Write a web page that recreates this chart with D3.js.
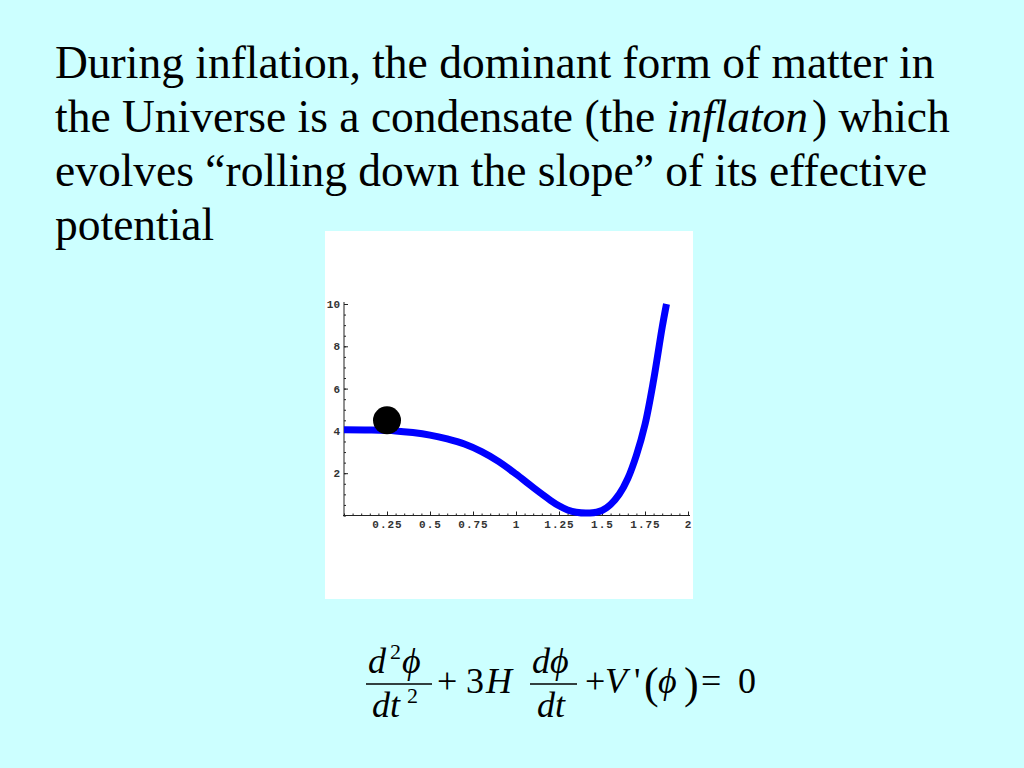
<!DOCTYPE html>
<html>
<head>
<meta charset="utf-8">
<script src="https://cdn.jsdelivr.net/npm/d3@7"></script>
<style>
  html, body { margin: 0; padding: 0; background: #ccffff; }
  svg { display: block; }
</style>
</head>
<body>
<svg id="slide" width="1024" height="768"></svg>
<script>
// ---- Data ----
const phiValues = [0, 0.15, 0.3, 0.4, 0.5, 0.6, 0.7, 0.8, 0.9, 1.0, 1.1, 1.2, 1.25, 1.3, 1.35, 1.43, 1.5, 1.55, 1.6, 1.65, 1.7, 1.75, 1.8, 1.85, 1.875];
const potentialValues = [4.05, 4.04, 4.0, 3.92, 3.8, 3.62, 3.38, 3.02, 2.55, 1.96, 1.32, 0.72, 0.46, 0.26, 0.15, 0.12, 0.24, 0.52, 1.0, 1.75, 2.85, 4.3, 6.4, 8.9, 10.0];
const ballPhi = [0.25];
const ballV = [4.5];
const xTickValues = [0.25, 0.5, 0.75, 1, 1.25, 1.5, 1.75, 2];
const xTickLabels = ["0.25", "0.5", "0.75", "1", "1.25", "1.5", "1.75", "2"];
const yTickValues = [2, 4, 6, 8, 10];
const yTickLabels = ["2", "4", "6", "8", "10"];
const paragraphLines = [
  [{t: "During inflation, the dominant form of matter in"}],
  [{t: "the Universe is a condensate (the"}, {t: "inflaton", i: true}, {t: ") which"}],
  [{t: "evolves \u201crolling down the slope\u201d of its effective"}],
  [{t: "potential"}]
];

const svg = d3.select("#slide");
svg.append("rect").attr("width", 1024).attr("height", 768).attr("fill", "#ccffff");

// ---- Paragraph (separate text pieces, laid out by measured width) ----
const serif = "'Liberation Serif', 'Times New Roman', Times, serif";
const paraSize = 45.5;
const spaceW = paraSize * 0.25;
paragraphLines.forEach((parts, li) => {
  let cx = 55;
  parts.forEach((p, pi) => {
    const t = svg.append("text")
      .attr("x", cx).attr("y", 78 + li * 54)
      .attr("font-family", serif).attr("font-size", paraSize).attr("fill", "#000")
      .attr("font-style", p.i ? "italic" : "normal")
      .text(p.t);
    const w = t.node().getComputedTextLength();
    // gap to next piece: a space after "(the", a small italic-correction after "inflaton"
    cx += w + (pi === 0 ? spaceW : 4);
  });
});

// ---- Chart panel ----
const panel = {x: 325, y: 231, w: 368, h: 368};
const defs = svg.append("defs");
defs.append("clipPath").attr("id", "panelClip")
  .append("rect").attr("x", panel.x).attr("y", panel.y).attr("width", panel.w).attr("height", panel.h);
svg.append("rect").attr("x", panel.x).attr("y", panel.y).attr("width", panel.w).attr("height", panel.h).attr("fill", "#ffffff");

const g = svg.append("g").attr("clip-path", "url(#panelClip)");
const x = d3.scaleLinear().domain([0, 2]).range([344, 688]);
const y = d3.scaleLinear().domain([0, 10]).range([515.5, 304]);

const mono = "'Liberation Mono', 'DejaVu Sans Mono', monospace";

// minor ticks
const xMinor = d3.range(0, 2.0001, 0.05);
const yMinor = d3.range(0, 10.0001, 0.5);
g.append("g").attr("transform", `translate(0,${y(0)})`)
  .call(d3.axisBottom(x).tickValues(xMinor).tickSizeInner(-2).tickSizeOuter(0).tickFormat(""))
  .call(a => a.select(".domain").remove())
  .call(a => a.selectAll("line").attr("stroke", "#222"));
g.append("g").attr("transform", `translate(${x(0)},0)`)
  .call(d3.axisLeft(y).tickValues(yMinor).tickSizeInner(-2).tickSizeOuter(0).tickFormat(""))
  .call(a => a.select(".domain").remove())
  .call(a => a.selectAll("line").attr("stroke", "#222"));

// major axes
const xAxis = g.append("g").attr("transform", `translate(0,${y(0)})`)
  .call(d3.axisBottom(x).tickValues(xTickValues).tickSizeInner(-4).tickSizeOuter(0).tickPadding(5)
    .tickFormat((d, i) => xTickLabels[i]));
xAxis.select(".domain").attr("d", `M${x(0) - 1},0H${x(2) + 2}`).attr("stroke", "#222");
xAxis.selectAll("line").attr("stroke", "#222");
xAxis.selectAll("text").attr("font-family", mono).attr("font-size", 11).attr("font-weight", "bold")
  .attr("letter-spacing", 1).attr("fill", "#333");

const yAxis = g.append("g").attr("transform", `translate(${x(0)},0)`)
  .call(d3.axisLeft(y).tickValues(yTickValues).tickSizeInner(-4).tickSizeOuter(0).tickPadding(4)
    .tickFormat((d, i) => yTickLabels[i]));
yAxis.select(".domain").attr("d", `M0,${y(0) + 1}V${y(10) - 2}`).attr("stroke", "#222");
yAxis.selectAll("line").attr("stroke", "#222");
yAxis.selectAll("text").attr("font-family", mono).attr("font-size", 11).attr("font-weight", "bold")
  .attr("fill", "#333");

// potential curve
const pts = phiValues.map((p, i) => [p, potentialValues[i]]);
const line = d3.line().x(d => x(d[0])).y(d => y(d[1])).curve(d3.curveCatmullRom.alpha(0.5));
g.append("path").datum(pts).attr("d", line)
  .attr("fill", "none").attr("stroke", "#0000ff").attr("stroke-width", 7).attr("stroke-linecap", "butt");

// ball
g.selectAll("circle.ball").data(ballPhi).join("circle").attr("class", "ball")
  .attr("cx", d => x(d)).attr("cy", (d, i) => y(ballV[i])).attr("r", 14).attr("fill", "#000");

// ---- Equation ----
const eq = svg.append("g").attr("font-family", serif).attr("fill", "#000");
function txt(s, xx, yy, opts = {}) {
  return eq.append("text").attr("x", xx).attr("y", yy).text(s)
    .attr("font-style", opts.i ? "italic" : "normal")
    .attr("font-size", opts.fs || 36);
}
// first fraction
txt("d", 368, 673, {i: true});
txt("2", 390, 659, {fs: 22});
txt("\u03d5", 402, 673, {i: true});
eq.append("line").attr("x1", 366).attr("x2", 432).attr("y1", 684).attr("y2", 684).attr("stroke", "#000").attr("stroke-width", 1.5);
txt("dt", 372, 717, {i: true});
txt("2", 407, 703, {fs: 22});
// + 3H
txt("+", 437, 693);
txt("3", 466, 693);
txt("H", 486, 693, {i: true});
// second fraction
txt("d\u03d5", 532, 673, {i: true});
eq.append("line").attr("x1", 530).attr("x2", 577).attr("y1", 684).attr("y2", 684).attr("stroke", "#000").attr("stroke-width", 1.5);
txt("dt", 537, 717, {i: true});
// + V'(phi) = 0
txt("+", 585, 693);
txt("V", 605, 693, {i: true});
txt("'", 634, 693);
txt("(", 644, 698, {fs: 44});
txt("\u03d5", 658, 693, {i: true});
txt(")", 684, 698, {fs: 44});
txt("=", 701, 693);
txt("0", 738, 693);
</script>
</body>
</html>
